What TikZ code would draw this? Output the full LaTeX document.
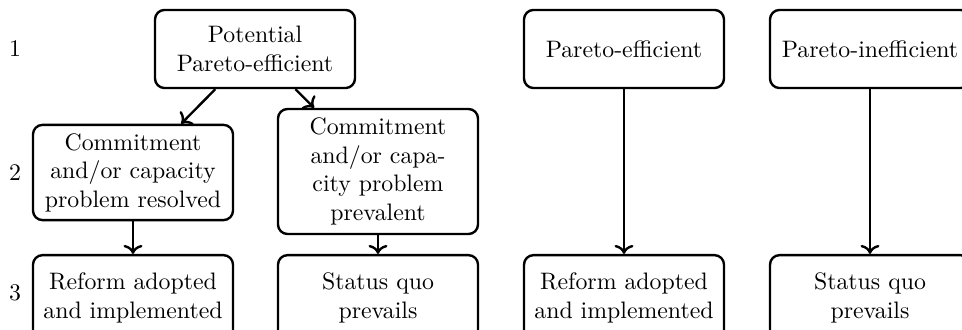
\documentclass[tikz,border=0pt]{standalone}
\usetikzlibrary{arrows.meta, positioning}
\begin{document}
\begin{tikzpicture}[x=0.42pt, y=-0.42pt,
		box/.style={draw, line width=1pt, rounded corners, align=center, minimum width=84pt, minimum height=32.8pt},
		link/.style={->, line width=1pt}]
		\useasboundingbox (0,0) rectangle (962,330);
		\clip (0,0) rectangle (962,330);
		% Row labels
		\node (lab1) at (15,49) {1};
		\node (lab2) at (15,173) {2};
		\node (lab3) at (15,293) {3};
		% Top row
		\node[box] (pot) at (255,49) {Potential\\Pareto-efficient};
		\node[box] (eff) at (624,49) {Pareto-efficient};
		\node[box] (ineff) at (870,49) {Pareto-inefficient};
		% Middle row
		\node[box, minimum height=40pt] (res) at (133,172.5) {Commitment\\and/or capacity\\problem resolved};
		\node[box, minimum height=52.5pt] (prev) at (378,171.5) {Commitment\\and/or capa-\\city problem\\prevalent};
		% Bottom row
		\node[box, minimum height=36pt] (adoptA) at (133,298) {Reform adopted\\and implemented};
		\node[box, minimum height=36pt] (quoA) at (378,298) {Status quo\\prevails};
		\node[box, minimum height=36pt] (adoptB) at (624,298) {Reform adopted\\and implemented};
		\node[box, minimum height=36pt] (quoB) at (870,298) {Status quo\\prevails};
		% Arrows
		\draw[link] (pot) -- (res);
		\draw[link] (pot) -- (prev);
		\draw[link] (res) -- (adoptA);
		\draw[link] (prev) -- (quoA);
		\draw[link] (eff) -- (adoptB);
		\draw[link] (ineff) -- (quoB);
	\end{tikzpicture}
\end{document}
